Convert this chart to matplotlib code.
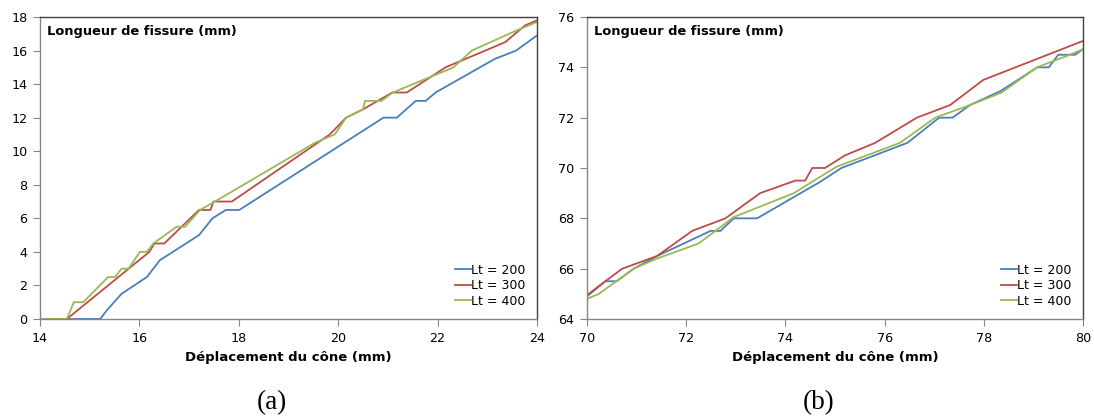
import matplotlib.pyplot as plt

plt.rcParams['font.family'] = ['DejaVu Sans']

# (a) plot data
xa_200 = [14.0, 15.21, 15.34, 15.64, 16.15, 16.41, 17.2, 17.47, 17.74, 18.01, 20.91, 21.18, 21.56, 21.76, 21.96, 23.15, 23.58, 24.0]
ya_200 = [0, 0, 0.5, 1.5, 2.5, 3.5, 5.0, 6.0, 6.5, 6.5, 12.0, 12.0, 13.0, 13.0, 13.5, 15.5, 16.0, 16.9]
xa_300 = [14.0, 14.54, 16.2, 16.3, 16.5, 17.2, 17.43, 17.49, 17.86, 19.83, 20.16, 20.5, 21.09, 21.38, 22.16, 23.36, 23.76, 24.0]
ya_300 = [0, 0, 4.0, 4.5, 4.5, 6.5, 6.5, 7.0, 7.0, 11.0, 12.0, 12.5, 13.5, 13.5, 15.0, 16.5, 17.5, 17.8]
xa_400 = [14.0, 14.54, 14.68, 14.87, 15.37, 15.51, 15.64, 15.78, 16.01, 16.15, 16.28, 16.75, 16.92, 17.22, 17.52,
          19.53, 19.93, 20.16, 20.5, 20.54, 20.87, 21.1, 22.32, 22.69, 23.59, 24.0]
ya_400 = [0, 0, 1.0, 1.0, 2.5, 2.5, 3.0, 3.0, 4.0, 4.0, 4.5, 5.5, 5.5, 6.5, 7.0,
          10.5, 11.0, 12.0, 12.5, 13.0, 13.0, 13.5, 15.0, 16.0, 17.2, 17.7]

# (b) plot data
xb_200 = [70.0, 70.37, 70.6, 70.94, 71.41, 72.49, 72.69, 72.96, 73.43, 74.7, 75.13, 76.46, 77.1, 77.37, 77.72,
          78.33, 79.08, 79.31, 79.5, 79.84, 80.0]
yb_200 = [64.9, 65.5, 65.5, 66.0, 66.5, 67.5, 67.5, 68.0, 68.0, 69.45, 70.0, 71.0, 72.0, 72.0, 72.5,
          73.05, 74.0, 74.0, 74.5, 74.5, 74.72]
xb_300 = [70.0, 70.37, 70.71, 71.41, 72.12, 72.79, 73.49, 74.2, 74.4, 74.54, 74.8, 75.2, 75.81, 76.65, 77.32,
          77.99, 80.0]
yb_300 = [64.95, 65.5, 66.0, 66.5, 67.5, 68.0, 69.0, 69.5, 69.5, 70.0, 70.0, 70.5, 71.0, 72.0, 72.5,
          73.5, 75.05]
xb_400 = [70.0, 70.24, 70.94, 71.41, 72.25, 72.96, 74.17, 74.7, 75.03, 76.31, 77.02, 77.72, 78.36, 79.07, 79.67, 80.0]
yb_400 = [64.8, 65.0, 66.0, 66.4, 67.0, 68.05, 69.0, 69.65, 70.05, 71.0, 72.0, 72.5, 73.0, 74.0, 74.45, 74.72]

labels = ['Lt = 200', 'Lt = 300', 'Lt = 400']
colors = ['#4A7EBB', '#BE4B48', '#98B954']

fig = plt.figure(figsize=(10.94, 4.17), dpi=100)
ax1 = fig.add_axes([40 / 1094, 1 - 319 / 417, 497 / 1094, 302 / 417])
ax2 = fig.add_axes([587 / 1094, 1 - 319 / 417, 496 / 1094, 302 / 417])

def style(ax, xlim, ylim, xticks, yticks, panel):
    ax.set_xlim(*xlim)
    ax.set_ylim(*ylim)
    ax.set_xticks(xticks)
    ax.set_yticks(yticks)
    ax.tick_params(labelsize=9.2, length=5, width=0.8, color='#868686', pad=4)
    for s in ax.spines.values():
        s.set_color('#404040')
        s.set_linewidth(1.0)
    ax.spines['left'].set_color('#868686')
    ax.spines['bottom'].set_color('#868686')
    ax.set_xlabel('Déplacement du cône (mm)', fontsize=9.5, fontweight='bold', labelpad=5)
    ax.text(0.014, 0.975, 'Longueur de fissure (mm)', transform=ax.transAxes,
            fontsize=9.4, fontweight='bold', va='top', ha='left')
    ax.legend(loc='lower right', frameon=False, fontsize=9, handlelength=1.3,
              handletextpad=0.05, labelspacing=0.2, borderaxespad=0.5)
    ax.text(0.467, -0.278, panel, transform=ax.transAxes, fontsize=19.5,
            family='Liberation Serif', ha='center', va='center')

for x, y, lab, c in zip([xa_200, xa_300, xa_400], [ya_200, ya_300, ya_400], labels, colors):
    ax1.plot(x, y, color=c, lw=1.3, label=lab)
for x, y, lab, c in zip([xb_200, xb_300, xb_400], [yb_200, yb_300, yb_400], labels, colors):
    ax2.plot(x, y, color=c, lw=1.3, label=lab)

style(ax1, (14, 24), (0, 18), range(14, 25, 2), range(0, 19, 2), '(a)')
style(ax2, (70, 80), (64, 76), range(70, 81, 2), range(64, 77, 2), '(b)')

fig.savefig('out.png', dpi=100)
